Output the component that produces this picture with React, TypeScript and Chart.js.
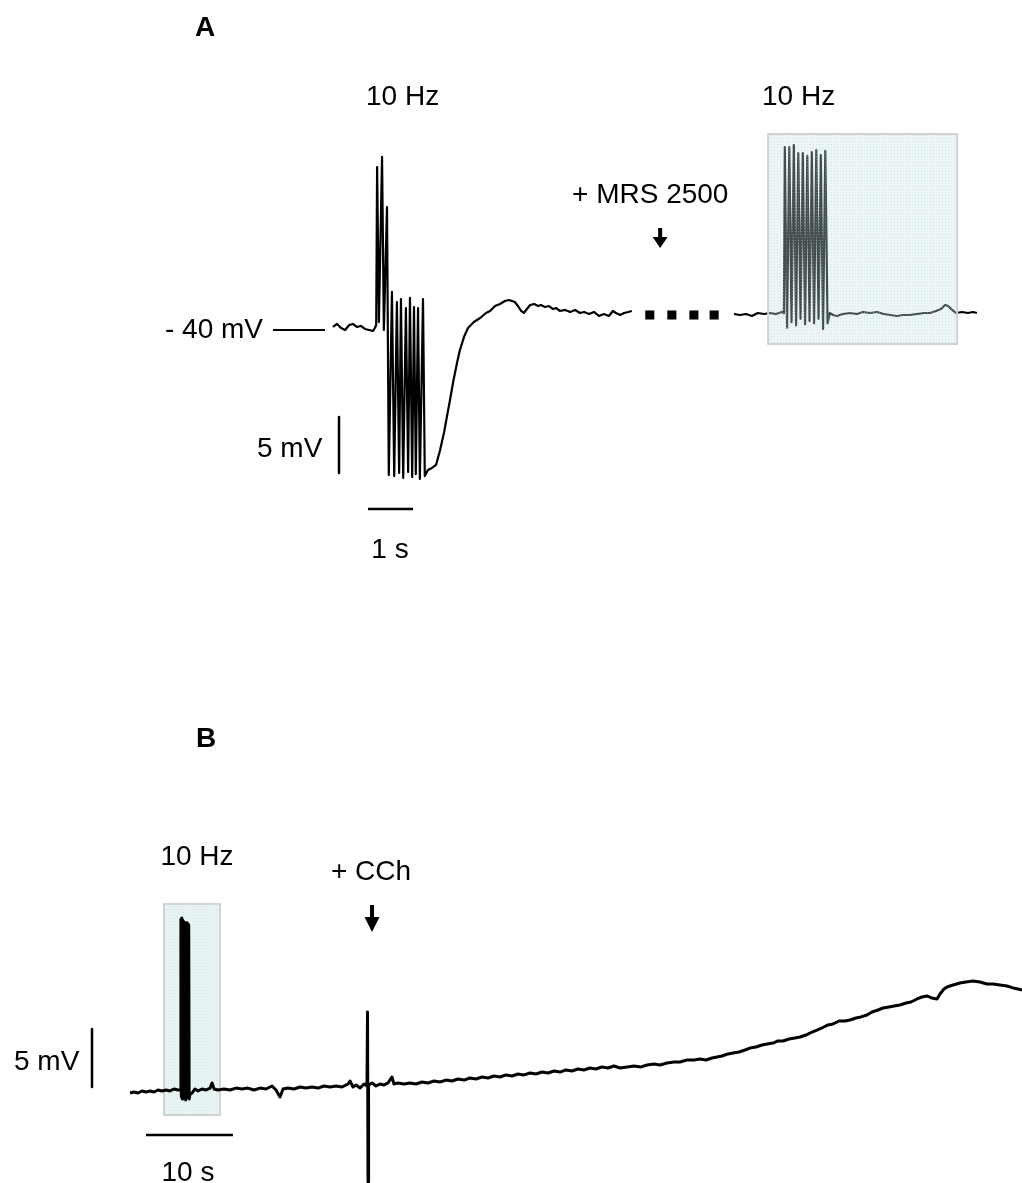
import React, { useEffect, useRef } from "react";
import { Chart, registerables } from "chart.js";

Chart.register(...registerables);

// ---------- Panel A: control trace (time in s, membrane potential in mV) ----------
const tA1 = [
  0, 0.09, 0.18, 0.27, 0.36, 0.44, 0.53, 0.62, 0.71, 0.8, 0.89, 0.93, 0.96,
  0.98, 1.02, 1.09, 1.13, 1.2, 1.24, 1.31, 1.36, 1.42, 1.47, 1.51, 1.56, 1.62, 1.67,
  1.71, 1.76, 1.8, 1.84, 1.89, 1.93, 2.0, 2.04, 2.11, 2.2, 2.29, 2.38, 2.47, 2.53,
  2.6, 2.67, 2.76, 2.82, 2.91, 3.0, 3.13, 3.27, 3.4, 3.49, 3.6, 3.71, 3.82, 3.91,
  3.98, 4.04, 4.11, 4.18, 4.24, 4.31, 4.38, 4.47, 4.56, 4.62, 4.71, 4.8, 4.89, 4.96,
  5.04, 5.16, 5.27, 5.38, 5.49, 5.58, 5.69, 5.8, 5.91, 6.02, 6.13, 6.22, 6.29, 6.38,
  6.47, 6.56, 6.64,
];
const vA1 = [
  -39.73, -39.46, -39.82, -40.0, -39.55, -39.46, -39.73, -39.64, -39.91, -40.0, -40.09, -39.82, -39.55,
  -25.45, -39.29, -24.55, -40.0, -29.02, -52.95, -36.6, -53.04, -37.5, -52.77, -37.23, -53.21, -38.04, -52.68,
  -37.14, -53.13, -37.95, -52.86, -38.04, -53.3, -37.23, -53.04, -52.5, -52.32, -52.05, -50.71, -49.11, -47.77,
  -46.25, -44.64, -42.86, -41.79, -40.63, -39.82, -39.29, -38.93, -38.48, -38.3, -37.86, -37.68, -37.41, -37.32,
  -37.41, -37.5, -37.86, -38.3, -38.48, -38.13, -37.77, -37.68, -37.86, -37.77, -37.95, -37.86, -38.13, -38.04,
  -38.3, -38.21, -38.39, -38.21, -38.48, -38.39, -38.57, -38.39, -38.75, -38.57, -38.75, -38.3, -38.48, -38.66,
  -38.48, -38.39, -38.3,
];

// ---------- Panel A: trace after + MRS 2500 ----------
const tA2 = [
  8.91, 9.04, 9.18, 9.31, 9.44, 9.58, 9.71, 9.84, 9.98, 10.02,
  10.04, 10.09, 10.14, 10.19, 10.24, 10.29, 10.34, 10.39, 10.44, 10.49,
  10.54, 10.59, 10.64, 10.69, 10.74, 10.79, 10.84, 10.89, 10.94, 10.99,
  11.04, 11.11, 11.2, 11.33, 11.49, 11.64, 11.78, 11.93, 12.09, 12.24, 12.38,
  12.53, 12.67, 12.82, 12.98, 13.13, 13.27, 13.4, 13.51, 13.6, 13.67, 13.76,
  13.84, 13.98, 14.11, 14.22, 14.31,
];
const vA2 = [
  -38.57, -38.66, -38.57, -38.75, -38.48, -38.57, -38.48, -38.57, -38.39, -38.5,
  -23.66, -39.8, -23.66, -39.3, -23.48, -39.6, -24.2, -39.0, -24.2, -39.5,
  -24.46, -39.2, -24.11, -39.4, -23.93, -39.0, -24.38, -39.9, -24.0, -39.4,
  -38.48, -38.66, -38.75, -38.57, -38.48, -38.57, -38.39, -38.48, -38.39, -38.57, -38.66,
  -38.75, -38.66, -38.66, -38.57, -38.48, -38.48, -38.3, -38.13, -37.77, -37.86, -38.21,
  -38.48, -38.39, -38.48, -38.39, -38.48,
];

// ---------- Panel A: break marks between the two recordings ----------
const tBreak = [7.04, 7.53, 8.02, 8.47];
const vBreak = [-38.66, -38.66, -38.66, -38.66];

// ---------- Panel B: trace (time in s, change in mV) ----------
const tB = [
  0, 0.46, 0.92, 1.38, 1.84, 2.3, 2.76, 3.22, 3.68, 4.14, 4.6, 5.06, 5.52, 5.75,
  5.85, 5.9, 5.95, 6.0, 6.05, 6.1, 6.15, 6.2, 6.25, 6.3, 6.35, 6.4, 6.45, 6.5,
  6.55, 6.6, 6.65, 6.7, 6.75, 6.8, 6.9,
  7.13, 7.47, 7.82, 8.28, 8.74, 9.2, 9.43, 9.66, 10.11, 10.8, 11.49, 12.18, 12.87,
  13.56, 14.25, 14.94, 15.63, 16.32, 16.78, 17.24, 17.59, 18.16, 18.85, 19.54, 20.23,
  20.92, 21.61, 22.3, 22.99, 23.68, 24.37, 25.06, 25.29, 25.63, 25.98, 26.44, 26.9,
  27.24, 27.3, 27.36, 27.42,
  27.82, 28.28, 28.74, 29.2, 29.66, 30.11, 30.34, 30.8, 31.49, 32.18, 32.87, 33.56,
  34.25, 34.94, 35.63, 36.32, 37.01, 37.7, 38.39, 39.08, 39.77, 40.46, 41.15, 41.84,
  42.53, 43.22, 43.91, 44.6, 45.29, 45.98, 46.67, 47.36, 48.05, 48.74, 49.43, 50.11,
  50.8, 51.49, 52.18, 52.87, 53.56, 54.25, 54.94, 55.63, 56.32,
  57.13, 57.93, 58.74, 59.43, 60.23, 60.92, 61.72, 62.53, 63.22, 64.02, 64.83, 65.52,
  66.21, 66.9, 67.47, 68.05, 68.74, 69.31, 70.0, 70.69, 71.26, 71.95, 72.64, 73.22,
  73.91, 74.48, 75.06, 75.75, 76.44, 77.01, 77.7, 78.39, 78.97, 79.54, 80.23, 80.8,
  81.49, 82.18, 82.76, 83.45, 84.02, 84.71, 85.29, 85.98, 86.55, 87.24, 87.82, 88.51,
  89.2, 89.77, 90.46, 91.03, 91.61, 92.18, 92.76, 93.1, 93.56, 93.91, 94.6, 95.4,
  96.09, 96.9, 97.7, 98.51, 99.2, 100.0, 100.8, 101.49, 102.07, 102.53,
];
const vB = [
  -0.09, 0, -0.09, 0.09, 0, 0.09, 0, 0.17, 0.09, 0.17, 0.09, 0.26, 0.17, 0.2,
  14.9, -0.4, 15.0, -0.6, 14.8, -0.3, 14.7, -0.5, 14.2, -0.4, 14.5, -0.7, 14.6, -0.3,
  14.6, -0.5, 14.5, -0.4, 14.4, -0.6, -0.2,
  -0.09, 0.26, 0.09, 0.26, 0.17, 0.34, 0.78, 0.26, 0.17, 0.26, 0.17, 0.34, 0.26,
  0.34, 0.17, 0.34, 0.26, 0.52, 0.17, -0.43, 0.26, 0.34, 0.26, 0.43, 0.34,
  0.43, 0.34, 0.52, 0.43, 0.52, 0.43, 0.69, 0.95, 0.43, 0.6, 0.34, 0.69,
  0.52, 6.9, -7.76, 0.6,
  0.78, 0.52, 0.69, 0.6, 0.78, 1.29, 0.69, 0.78, 0.69, 0.78, 0.69, 0.86,
  0.78, 0.95, 0.86, 1.03, 0.95, 1.12, 1.03, 1.21, 1.12, 1.29, 1.21, 1.38,
  1.29, 1.47, 1.38, 1.55, 1.47, 1.64, 1.55, 1.72, 1.64, 1.81, 1.72, 1.9,
  1.81, 1.98, 1.9, 2.07, 1.98, 2.16, 2.07, 2.24, 2.07,
  2.16, 2.24, 2.16, 2.33, 2.41, 2.33, 2.5, 2.59, 2.59, 2.76, 2.76, 2.84,
  2.76, 2.93, 3.02, 3.1, 3.28, 3.36, 3.45, 3.62, 3.79, 3.88, 4.05, 4.14,
  4.22, 4.4, 4.4, 4.57, 4.66, 4.74, 4.91, 5.17, 5.34, 5.52, 5.78, 5.86,
  6.12, 6.12, 6.21, 6.38, 6.47, 6.64, 6.9, 7.07, 7.24, 7.33, 7.41, 7.5,
  7.67, 7.76, 8.02, 8.19, 8.28, 8.1, 8.02, 8.45, 8.88, 9.05, 9.22, 9.4,
  9.48, 9.57, 9.48, 9.31, 9.31, 9.22, 9.14, 8.97, 8.88, 8.79,
];

// ---------- Reference values / scale bars ----------
const A_REF_MV = -40; // "- 40 mV" level
const A_BAR_MV = 5;
const A_BAR_S = 1;
const B_BAR_MV = 5;
const B_BAR_S = 10;
const MRS_TIME_S = 7.27; // + MRS 2500 application (panel A time base)
const CCH_TIME_S = 27.82; // + CCh application (panel B time base)
const STIM_A_WINDOW = [9.67, 13.87]; // shaded 10 Hz window, panel A (s)
const STIM_B_WINDOW = [3.91, 10.34]; // shaded 10 Hz window, panel B (s)

// ---------- Layout (pixels) ----------
const W = 1022;
const H = 1183;
const A_X0 = 333; // pixel of t = 0
const A_PX_PER_S = 45;
const A_Y_REF = 330; // pixel of -40 mV
const A_PX_PER_MV = 11.2;
const B_X0 = 130;
const B_PX_PER_S = 8.7;
const B_Y0 = 1092;
const B_PX_PER_MV = 11.6;

const FONT = '"Liberation Sans", Arial, Helvetica, sans-serif';

const pts = (t: number[], v: number[]) => t.map((x, i) => ({ x, y: v[i] }));

function makePattern(ctx: CanvasRenderingContext2D, base: string, dot: string) {
  const c = document.createElement("canvas");
  c.width = 3;
  c.height = 3;
  const g = c.getContext("2d")!;
  g.fillStyle = base;
  g.fillRect(0, 0, 3, 3);
  g.fillStyle = dot;
  g.fillRect(0, 0, 1, 1);
  return ctx.createPattern(c, "repeat")!;
}

function drawBox(chart: any, xs: string, win: number[], yTop: number, yBot: number, base: string, dot: string) {
  const ctx = chart.ctx as CanvasRenderingContext2D;
  const sx = chart.scales[xs];
  const x0 = sx.getPixelForValue(win[0]);
  const x1 = sx.getPixelForValue(win[1]);
  ctx.save();
  ctx.fillStyle = makePattern(ctx, base, dot);
  ctx.fillRect(x0, yTop, x1 - x0, yBot - yTop);
  ctx.strokeStyle = "#d2d2d2";
  ctx.lineWidth = 2;
  ctx.strokeRect(x0, yTop, x1 - x0, yBot - yTop);
  ctx.restore();
}

function drawArrow(ctx: CanvasRenderingContext2D, x: number, yTop: number, yHead: number, yTip: number, half: number) {
  ctx.save();
  ctx.fillStyle = "#000";
  ctx.fillRect(x - 2, yTop, 4, yHead - yTop + 1);
  ctx.beginPath();
  ctx.moveTo(x - half, yHead);
  ctx.lineTo(x + half, yHead);
  ctx.lineTo(x, yTip);
  ctx.closePath();
  ctx.fill();
  ctx.restore();
}

function text(ctx: CanvasRenderingContext2D, s: string, x: number, y: number, bold = false, align: CanvasTextAlign = "left") {
  ctx.font = `${bold ? "bold " : ""}28px ${FONT}`;
  ctx.textAlign = align;
  ctx.textBaseline = "alphabetic";
  ctx.fillStyle = "#000";
  ctx.fillText(s, x, y);
}

const overlay = {
  id: "overlay",
  beforeDatasetsDraw(chart: any) {
    drawBox(chart, "xB", STIM_B_WINDOW, 904, 1115, "#e8f4f4", "#d9eaea");
  },
  afterDatasetsDraw(chart: any) {
    drawBox(chart, "xA", STIM_A_WINDOW, 134, 344, "rgba(200,228,230,0.34)", "rgba(170,205,208,0.4)");
    const ctx = chart.ctx as CanvasRenderingContext2D;
    const xA = chart.scales.xA;
    const xB = chart.scales.xB;
    drawArrow(ctx, xA.getPixelForValue(MRS_TIME_S), 228, 237, 248, 7.5);
    drawArrow(ctx, xB.getPixelForValue(CCH_TIME_S), 905, 917, 932, 7.5);

    text(ctx, "A", 195, 36, true);
    text(ctx, "10 Hz", 366, 105);
    text(ctx, "10 Hz", 762, 105);
    text(ctx, "+ MRS 2500", 572, 203);
    text(ctx, "- 40 mV", 165, 338);
    text(ctx, "5 mV", 257, 457);
    text(ctx, "1 s", 390, 558, false, "center");

    text(ctx, "B", 196, 747, true);
    text(ctx, "10 Hz", 197, 865, false, "center");
    text(ctx, "+ CCh", 371, 880, false, "center");
    text(ctx, "5 mV", 14, 1070);
    text(ctx, "10 s", 188, 1181, false, "center");
  },
};

export default function App() {
  const ref = useRef<HTMLCanvasElement>(null);

  useEffect(() => {
    const line = (data: any[], xAxisID: string, yAxisID: string, width: number) => ({
      type: "line" as const,
      data,
      xAxisID,
      yAxisID,
      borderColor: "#000",
      borderWidth: width,
      pointRadius: 0,
      tension: 0,
      fill: false,
      borderJoinStyle: "round" as const,
      borderCapStyle: "butt" as const,
    });

    const aRefT0 = -(A_X0 - 273) / A_PX_PER_S;
    const aRefT1 = -(A_X0 - 325) / A_PX_PER_S;
    const aBarT = (339 - A_X0) / A_PX_PER_S;
    const aBarTop = A_REF_MV + (A_Y_REF - 417) / A_PX_PER_MV;
    const aSBarV = A_REF_MV + (A_Y_REF - 509) / A_PX_PER_MV;
    const aSBarT0 = (368 - A_X0) / A_PX_PER_S;
    const bBarT = (92 - B_X0) / B_PX_PER_S;
    const bBarTop = (B_Y0 - 1029) / B_PX_PER_MV;
    const bSBarV = (B_Y0 - 1135) / B_PX_PER_MV;
    const bSBarT0 = (146 - B_X0) / B_PX_PER_S;

    const chart = new Chart(ref.current!, {
      type: "line",
      data: {
        datasets: [
          line(pts(tA1, vA1), "xA", "yA", 2.2),
          line(pts(tA2, vA2), "xA", "yA", 2.2),
          {
            type: "scatter" as const,
            data: pts(tBreak, vBreak),
            xAxisID: "xA",
            yAxisID: "yA",
            pointStyle: "rect",
            pointRadius: 6.4,
            pointBackgroundColor: "#000",
            pointBorderWidth: 0,
            showLine: false,
          } as any,
          line([{ x: aRefT0, y: A_REF_MV }, { x: aRefT1, y: A_REF_MV }], "xA", "yA", 2),
          line([{ x: aBarT, y: aBarTop }, { x: aBarT, y: aBarTop - A_BAR_MV }], "xA", "yA", 2.5),
          line([{ x: aSBarT0, y: aSBarV }, { x: aSBarT0 + A_BAR_S, y: aSBarV }], "xA", "yA", 2.5),
          line(pts(tB, vB), "xB", "yB", 3),
          line([{ x: bBarT, y: bBarTop }, { x: bBarT, y: bBarTop - B_BAR_MV }], "xB", "yB", 2.5),
          line([{ x: bSBarT0, y: bSBarV }, { x: bSBarT0 + B_BAR_S, y: bSBarV }], "xB", "yB", 2.5),
        ] as any,
      },
      options: {
        animation: false,
        responsive: false,
        devicePixelRatio: 1,
        events: [],
        layout: { padding: 0, autoPadding: false },
        plugins: { legend: { display: false }, tooltip: { enabled: false } },
        scales: {
          xA: { type: "linear", display: false, min: -A_X0 / A_PX_PER_S, max: (W - A_X0) / A_PX_PER_S },
          yA: {
            type: "linear",
            display: false,
            min: A_REF_MV - (H - A_Y_REF) / A_PX_PER_MV,
            max: A_REF_MV + A_Y_REF / A_PX_PER_MV,
          },
          xB: { type: "linear", display: false, min: -B_X0 / B_PX_PER_S, max: (W - B_X0) / B_PX_PER_S },
          yB: { type: "linear", display: false, min: -(H - B_Y0) / B_PX_PER_MV, max: B_Y0 / B_PX_PER_MV },
        },
      } as any,
      plugins: [overlay],
    });
    return () => chart.destroy();
  }, []);

  return (
    <div style={{ position: "absolute", left: 0, top: 0, width: W, height: H, background: "#fff", overflow: "hidden" }}>
      <canvas ref={ref} width={W} height={H} style={{ display: "block", width: W, height: H }} />
    </div>
  );
}
